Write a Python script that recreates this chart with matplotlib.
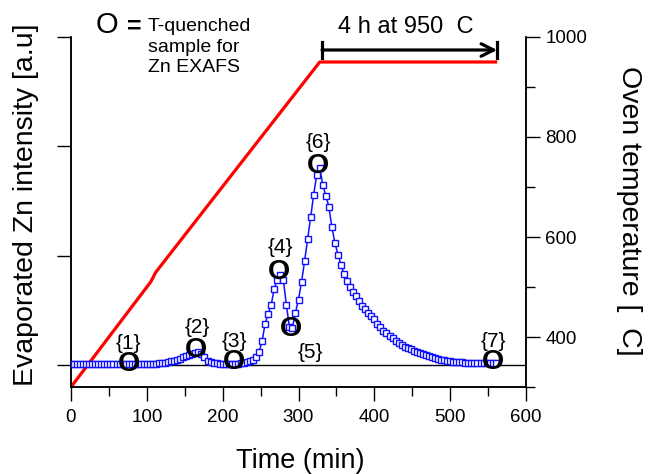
import matplotlib

matplotlib.use("Agg")
import matplotlib.pyplot as plt
from matplotlib.ticker import MultipleLocator, FixedLocator, NullFormatter

plt.rcParams["font.family"] = ["Liberation Sans", "DejaVu Sans"]

# Zn evaporation signal (left axis)
time_min = [
    0, 4, 8, 12, 16, 20, 24, 28, 32, 36, 40, 44, 48, 52, 56,
    60, 64, 68, 72, 76, 80, 84, 88, 92, 96, 100, 104, 108, 112, 116,
    120, 124, 128, 132, 136, 140, 144, 148, 152, 156, 160, 164, 168, 172, 176,
    180, 184, 188, 192, 196, 200, 204, 208, 212, 216, 220, 224, 228, 232, 236,
    240, 244, 248, 252, 256, 260, 264, 268, 272, 276, 280, 284, 288, 292, 296,
    300, 304, 308, 312, 316, 320, 324, 328, 332, 336, 340, 344, 348, 352, 356,
    360, 364, 368, 372, 376, 380, 384, 388, 392, 396, 400, 404, 408, 412, 416,
    420, 424, 428, 432, 436, 440, 444, 448, 452, 456, 460, 464, 468, 472, 476,
    480, 484, 488, 492, 496, 500, 504, 508, 512, 516, 520, 524, 528, 532, 536,
    540, 544, 548, 552, 556, 560,
]
zn_intensity = [
    0.01, 0.01, 0.01, 0.01, 0.01, 0.01, 0.01, 0.01, 0.01, 0.01, 0.01, 0.01, 0.01, 0.01, 0.01,
    0.01, 0.01, 0.01, 0.01, 0.01, 0.01, 0.01, 0.01, 0.01, 0.01, 0.01, 0.01, 0.01, 0.01, 0.015,
    0.02, 0.02, 0.03, 0.035, 0.04, 0.05, 0.06, 0.07, 0.08, 0.09, 0.10, 0.115, 0.12, 0.10, 0.07,
    0.04, 0.03, 0.02, 0.015, 0.01, 0.01, 0.01, 0.01, 0.01, 0.01, 0.01, 0.015, 0.02, 0.03, 0.04,
    0.05, 0.07, 0.12, 0.22, 0.38, 0.47, 0.55, 0.70, 0.78, 0.82, 0.78, 0.55, 0.35, 0.34, 0.48,
    0.60, 0.76, 0.95, 1.15, 1.35, 1.56, 1.74, 1.80, 1.65, 1.55, 1.45, 1.26, 1.12, 1.01, 0.92,
    0.83, 0.77, 0.71, 0.67, 0.63, 0.59, 0.54, 0.51, 0.48, 0.45, 0.42, 0.38, 0.35, 0.315, 0.29,
    0.265, 0.245, 0.225, 0.205, 0.185, 0.17, 0.155, 0.145, 0.13, 0.12, 0.11, 0.10, 0.09, 0.08, 0.07,
    0.065, 0.058, 0.05, 0.045, 0.04, 0.035, 0.032, 0.03, 0.027, 0.025, 0.022, 0.02, 0.018, 0.017, 0.016,
    0.015, 0.015, 0.015, 0.015, 0.015, 0.015,
]

# T-quenched samples
sample_time = [76, 165, 215, 274, 290, 326, 557]
sample_value = [0.01, 0.14, 0.03, 0.85, 0.33, 1.82, 0.03]
sample_label = ["{1}", "{2}", "{3}", "{4}", "{5}", "{6}", "{7}"]
# label offset (points) relative to the circle
label_offset = [(0, 15), (1, 16), (0, 15), (1, 18), (14, -17), (0, 17), (0, 15)]

# oven program (right axis)
oven_time = [0, 105, 112, 328, 562]
oven_temp = [300, 510, 530, 950, 950]
hold_start, hold_end, hold_level = 331, 562, 974

fig = plt.figure(figsize=(6.5, 4.74), dpi=100)
ax = fig.add_axes([71 / 650, 1 - 387 / 474, 455 / 650, 350 / 474])
ax2 = ax.twinx()

# 信号
ax.axhline(0, color="black", lw=1.0, zorder=1)
ax.plot(time_min, zn_intensity, color="#1010ff", lw=1.1, marker="s", ms=3.8,
        mfc="white", mec="#1010ff", mew=1.0, zorder=3)

for t, v, lab, off in zip(sample_time, sample_value, sample_label, label_offset):
    ax.text(t, v, "O", ha="center", va="center", fontsize=20.5, fontweight="bold",
            color="black", zorder=5)
    ax.annotate(lab, (t, v), xytext=off, textcoords="offset points",
                ha="center", va="center", fontsize=15, zorder=5)

ax.set_xlim(0, 600)
ax.set_ylim(-0.2, 3.0)
ax.xaxis.set_major_locator(MultipleLocator(100))
ax.xaxis.set_minor_locator(MultipleLocator(50))
ax.yaxis.set_major_locator(FixedLocator([0, 1, 2, 3]))
ax.yaxis.set_major_formatter(NullFormatter())
ax.tick_params(axis="x", which="major", length=10, width=1, labelsize=13.5, pad=6)
ax.tick_params(axis="x", which="minor", length=6.5, width=1)
ax.tick_params(axis="y", which="major", length=10, width=1)

# 温度
ax2.plot(oven_time, oven_temp, color="red", lw=2.3, solid_capstyle="butt", zorder=2)
ax2.annotate("", xy=(hold_end, hold_level), xytext=(hold_start, hold_level),
             arrowprops=dict(arrowstyle="->,head_length=0.9,head_width=0.45",
                             lw=2.3, color="black", shrinkA=0, shrinkB=0))
for x_bar in (hold_start, hold_end):
    ax2.plot([x_bar, x_bar], [hold_level - 16, hold_level + 16], color="black", lw=2.3)
ax2.text((hold_start + hold_end) / 2 - 5, 1020, "4 h at 950  C", ha="center",
         va="center", fontsize=17)
ax2.set_ylim(300, 1000)
ax2.yaxis.set_major_locator(MultipleLocator(200))
ax2.yaxis.set_minor_locator(FixedLocator([300, 500, 700, 900]))
ax2.tick_params(axis="y", which="major", length=10, width=1, labelsize=13.5, pad=4)
ax2.tick_params(axis="y", which="minor", length=6.5, width=1)

for a in (ax, ax2):
    a.spines["top"].set_visible(False)
    for s in ("left", "right", "bottom"):
        a.spines[s].set_linewidth(1.1)
ax.set_zorder(ax2.get_zorder() + 1)
ax.patch.set_visible(False)

# ラベル
fig.text(300 / 650, 1 - 461 / 474, "Time (min)", ha="center", va="center", fontsize=19.5)
fig.text(26 / 650, 1 - 205 / 474, "Evaporated Zn intensity [a.u]", ha="center",
         va="center", rotation=90, fontsize=20.5)
fig.text(629 / 650, 1 - 211 / 474, "Oven temperature [  C]", ha="center",
         va="center", rotation=270, fontsize=20.5)

# legend for the circles
fig.text(107 / 650, 1 - 25 / 474, "O", ha="center", va="center", fontsize=21)
fig.text(134 / 650, 1 - 27 / 474, "=", ha="center", va="center", fontsize=18,
         fontweight="bold")
fig.text(148 / 650, 1 - 47 / 474, "T-quenched\nsample for\nZn EXAFS", ha="left",
         va="center", fontsize=14, linespacing=1.3)

plt.savefig("out.png", dpi=100)
plt.close()
